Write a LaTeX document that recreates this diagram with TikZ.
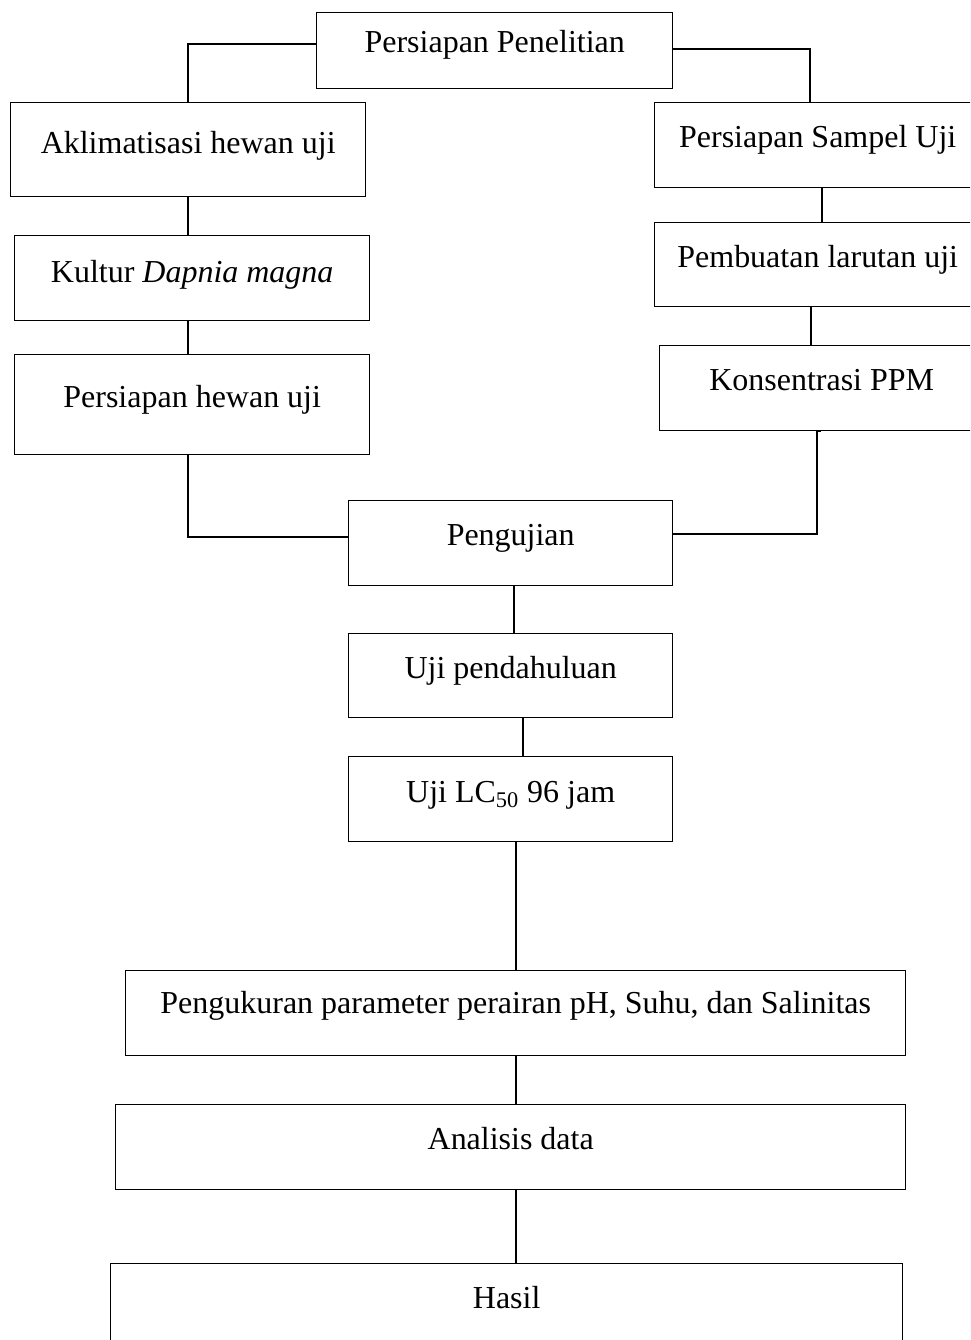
\documentclass[tikz,border=0pt]{standalone}
\usepackage{fontspec}
\setmainfont{Liberation Serif}
\usepackage{tikz}

\tikzset{
  box/.style={draw, line width=0.8pt, inner sep=0pt, anchor=north west,
    font=\fontsize{18.2}{22}\selectfont, text height=0.9cm, text depth=0.8cm},
  link/.style={line width=1.1pt}
}

\begin{document}
\begin{tikzpicture}

\useasboundingbox (0,0) rectangle (19.4,-26.8);
\clip (0,0) rectangle (19.4,-26.8);

% top
\node[box, minimum width=7.12cm, text height=0.8cm, text depth=0.72cm] (pp) at (6.32,-0.24) {Persiapan Penelitian};

% left branch
\node[box, minimum width=7.1cm, text height=1.02cm, text depth=0.86cm] (akl) at (0.20,-2.04) {Aklimatisasi hewan uji};
\node[box, minimum width=7.1cm, text height=0.94cm, text depth=0.76cm] (kul) at (0.28,-4.70) {Kultur \textit{Dapnia magna}};
\node[box, minimum width=7.1cm, text height=1.06cm, text depth=0.94cm] (phu) at (0.28,-7.08) {Persiapan hewan uji};

% right branch
\node[box, minimum width=6.52cm] (psu) at (13.08,-2.04) {Persiapan Sampel Uji};
\node[box, minimum width=6.52cm, text depth=0.78cm] (plu) at (13.08,-4.44) {Pembuatan larutan uji};
\node[box, minimum width=6.48cm] (kppm) at (13.18,-6.90) {Konsentrasi PPM};

% middle column
\node[box, minimum width=6.48cm] (pgj) at (6.96,-10.00) {Pengujian};
\node[box, minimum width=6.48cm, text depth=0.78cm] (upd) at (6.96,-12.66) {Uji pendahuluan};
\node[box, minimum width=6.48cm, text height=0.92cm, text depth=0.78cm] (lc) at (6.96,-15.12) {Uji LC\textsubscript{50} 96 jam};

% bottom
\node[box, minimum width=15.6cm, text height=0.86cm, text depth=0.84cm] (ukr) at (2.50,-19.40) {Pengukuran parameter perairan pH, Suhu, dan Salinitas};
\node[box, minimum width=15.8cm] (ana) at (2.30,-22.08) {Analisis data};
\node[box, minimum width=15.84cm, text depth=1.2cm] (has) at (2.20,-25.26) {Hasil};

% connectors
\draw[link] ([yshift=0.14cm]pp.west) -| (akl.north);
\draw[link] ([yshift=0.04cm]pp.east) -| ([xshift=-0.16cm]psu.north);

\draw[link] (akl.south) -- (akl.south |- kul.north);
\draw[link] (akl.south |- kul.south) -- (akl.south |- phu.north);
\draw[link] (akl.south |- phu.south) |- ([yshift=0.13cm]pgj.west);

\draw[link] ([xshift=0.08cm]psu.south) -- ([xshift=0.08cm]psu.south |- plu.north);
\draw[link] ([xshift=-0.14cm]plu.south) -- ([xshift=-0.14cm]plu.south |- kppm.north);
\draw[link] ([xshift=-0.02cm]kppm.south) -- ([xshift=-0.1cm]kppm.south) |- ([yshift=0.19cm]pgj.east);

\draw[link] ([xshift=0.06cm]pgj.south) -- ([xshift=0.06cm]pgj.south |- upd.north);
\draw[link] ([xshift=0.24cm]upd.south) -- ([xshift=0.24cm]upd.south |- lc.north);
\draw[link] (ukr.north |- lc.south) -- (ukr.north);
\draw[link] (ukr.south) -- (ukr.south |- ana.north);
\draw[link] (ukr.south |- ana.south) -- (ukr.south |- has.north);

\end{tikzpicture}
\end{document}
